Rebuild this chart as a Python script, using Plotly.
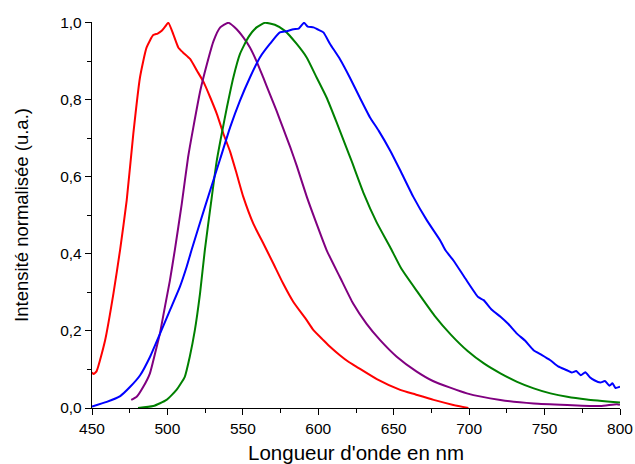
import plotly.graph_objects as go

# Wavelength (nm) / normalised intensity for each spectrum
red_x = [450, 451, 453, 458.7, 464.2, 468.6, 473, 477.4, 481.8, 486.2, 490.6, 493.5, 496.2, 498.5, 500.6,
         503.9, 507.2, 510.3, 515, 519.5, 524, 528.4, 532.8, 537.1, 541.6, 545.9, 550.3, 557, 563.6,
         570.2, 576.7, 583.5, 592.3, 596.8, 603.4, 607.8, 614.3, 620, 625.4, 638.8, 654.3, 664.5,
         676.5, 689.5, 699.5]
red_y = [0.093, 0.088, 0.095, 0.176, 0.297, 0.41, 0.539, 0.712, 0.858, 0.936, 0.968, 0.972, 0.979, 0.99, 1.0,
         0.97, 0.936, 0.923, 0.906, 0.876, 0.846, 0.806, 0.763, 0.712, 0.665, 0.608, 0.548, 0.478, 0.427,
         0.375, 0.323, 0.275, 0.228, 0.202, 0.176, 0.159, 0.137, 0.12, 0.107, 0.075, 0.047, 0.035,
         0.021, 0.008, 0.0]

purple_x = [476, 479.6, 484, 488.4, 491.7, 495, 498.3, 501.6, 504.9, 509.5, 513.7, 517.2, 521.8, 526.2,
            530.6, 535, 540.4, 545.9, 550.3, 554.7, 559.1, 563.5, 567.9, 572.3, 576.6, 581.4, 585.8,
            592.4, 598.9, 605.5, 614.3, 623.1, 631.9, 641, 652, 665, 676, 698.5, 720.7, 742.8, 765,
            787, 798, 800]
purple_y = [0.021, 0.029, 0.055, 0.09, 0.14, 0.193, 0.262, 0.33, 0.41, 0.53, 0.651, 0.729, 0.824, 0.893,
            0.953, 0.988, 1.0, 0.983, 0.962, 0.936, 0.9, 0.858, 0.815, 0.772, 0.727, 0.677, 0.628,
            0.548, 0.478, 0.41, 0.34, 0.271, 0.219, 0.176, 0.133, 0.095, 0.07, 0.038, 0.021, 0.012, 0.008,
            0.005, 0.01, 0.008]

green_x = [480.5, 490.6, 499.4, 506, 511.5, 514.8, 518.1, 521.6, 524.8, 528.8, 532.7, 536, 539.4, 543.7,
           548.1, 553.6, 559.1, 564.6, 571.2, 577.9, 585.7, 592.3, 598.9, 605.5, 612.1, 618.7, 622,
           629.8, 638.7, 647.6, 655, 666, 677, 688, 699, 710, 720.7, 731.8, 742.8, 753.9, 765, 778, 800]
green_y = [0.0, 0.005, 0.021, 0.047, 0.081, 0.133, 0.2, 0.297, 0.41, 0.53, 0.642, 0.712, 0.78, 0.858,
           0.919, 0.962, 0.988, 1.0, 0.995, 0.979, 0.945, 0.91, 0.858, 0.806, 0.742, 0.675, 0.642,
           0.56, 0.482, 0.418, 0.362, 0.3, 0.24, 0.19, 0.148, 0.115, 0.09, 0.068, 0.051, 0.038, 0.029,
           0.022, 0.014]

blue_x = [450, 459.8, 468.7, 475.3, 481.9, 488.5, 495.1, 501.7, 508.3, 512.7, 516, 525.5, 535, 541.6,
          548.1, 554.7, 561.3, 567.9, 574.5, 579, 583.5, 587, 590.5, 593, 596.8, 600, 603.4, 607.8,
          614.3, 620.9, 627.5, 634.2, 640, 647.7, 654.3, 663, 672, 680.8, 684.2, 689.6, 697.5, 706,
          709.6, 715, 720.8, 726, 731.7, 737, 742.7, 748, 753.8, 759, 764.8, 768, 771, 774, 777, 780,
          783, 787, 790, 793, 795, 797, 800]
blue_y = [0.004, 0.016, 0.031, 0.055, 0.085, 0.133, 0.193, 0.254, 0.315, 0.366, 0.41, 0.53, 0.647, 0.729,
          0.798, 0.858, 0.91, 0.945, 0.975, 0.978, 0.983, 0.985, 1.0, 0.99, 0.988, 0.982, 0.975, 0.945,
          0.906, 0.858, 0.806, 0.755, 0.72, 0.668, 0.617, 0.548, 0.487, 0.435, 0.41, 0.383, 0.336, 0.288,
          0.28, 0.255, 0.237, 0.218, 0.193, 0.175, 0.15, 0.138, 0.124, 0.108, 0.098, 0.092, 0.096, 0.085,
          0.093, 0.08, 0.072, 0.066, 0.07, 0.058, 0.064, 0.052, 0.055]

x_ticks = [450, 500, 550, 600, 650, 700, 750, 800]
y_ticks = [0.0, 0.2, 0.4, 0.6, 0.8, 1.0]

font_family = "Arial, Liberation Sans, sans-serif"

fig = go.Figure()
for xs, ys, col in [(red_x, red_y, "#FF0000"), (purple_x, purple_y, "#800080"),
                    (green_x, green_y, "#008000"), (blue_x, blue_y, "#0000FF")]:
    fig.add_trace(go.Scatter(x=xs, y=ys, mode="lines",
                             line=dict(color=col, width=2, shape="spline", smoothing=0.5),
                             showlegend=False))

fig.update_layout(
    width=635, height=464,
    margin=dict(l=92, r=15, t=22, b=56),
    paper_bgcolor="white", plot_bgcolor="white",
    separators=",.",
    font=dict(family=font_family, color="black"),
)
fig.update_xaxes(
    range=[450, 800], tickvals=x_ticks, showgrid=False, zeroline=False, automargin=False,
    showline=True, linecolor="black", linewidth=1.3,
    ticks="outside", ticklen=6, tickwidth=1.3, tickcolor="black",
    minor=dict(ticks="outside", ticklen=4, tickwidth=1.3, tickcolor="black", dtick=25),
    tickfont=dict(size=15.5, family=font_family),
    title=dict(text="Longueur d'onde en nm", font=dict(size=20.5, family=font_family), standoff=15),
)
fig.update_yaxes(
    range=[0, 1.002], tickvals=y_ticks, tickformat=".1f", showgrid=False, zeroline=False, automargin=False,
    showline=True, linecolor="black", linewidth=1.3,
    ticks="outside", ticklen=6, tickwidth=1.3, tickcolor="black",
    minor=dict(ticks="outside", ticklen=4, tickwidth=1.3, tickcolor="black", dtick=0.1),
    tickfont=dict(size=15.5, family=font_family),
    title=dict(text="Intensité normalisée (u.a.)", font=dict(size=18.5, family=font_family), standoff=26),
)

fig.write_html("out.html", config={"displayModeBar": False},
               post_script="document.body.style.margin='0px';")
